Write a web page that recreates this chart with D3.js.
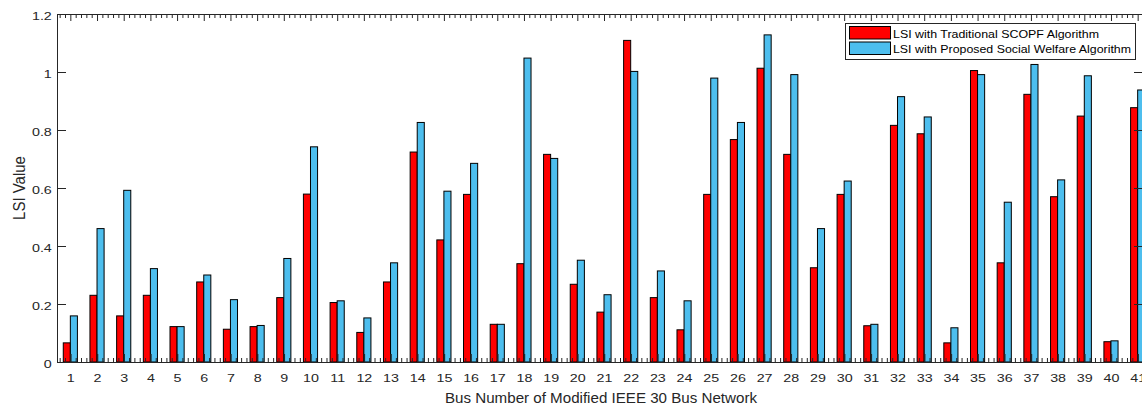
<!DOCTYPE html>
<html>
<head>
<meta charset="utf-8">
<script src="https://cdn.jsdelivr.net/npm/d3@7"></script>
<style>
  body { margin: 0; background: #fff; }
  svg { display: block; font-family: "Liberation Sans", Arial, sans-serif; }
  .axis text { fill: #262626; font-size: 11px; }
  .axis line { stroke: #262626; }
</style>
</head>
<body>
<div id="chart"></div>
<script>
// bus numbers 1..41
const buses = [1,2,3,4,5,6,7,8,9,10,11,12,13,14,15,16,17,18,19,20,21,22,23,24,25,26,27,28,29,30,31,32,33,34,35,36,37,38,39,40,41];

const lsiTraditional = [0.066,0.230,0.159,0.230,0.122,0.276,0.113,0.122,0.222,0.579,
                        0.205,0.102,0.276,0.724,0.421,0.578,0.130,0.339,0.716,0.268,
                        0.172,1.109,0.222,0.111,0.578,0.767,1.013,0.716,0.325,0.578,
                        0.125,0.816,0.787,0.066,1.005,0.342,0.923,0.570,0.848,0.070,0.877];

const lsiSocialWelfare = [0.159,0.460,0.592,0.322,0.122,0.300,0.215,0.126,0.357,0.742,
                          0.211,0.152,0.342,0.826,0.589,0.685,0.130,1.048,0.702,0.351,
                          0.232,1.002,0.314,0.211,0.979,0.826,1.128,0.991,0.460,0.624,
                          0.130,0.915,0.845,0.118,0.991,0.551,1.026,0.628,0.987,0.073,0.938];

const yTicks = [0, 0.2, 0.4, 0.6, 0.8, 1, 1.2];
const seriesNames = ["LSI with Traditional SCOPF Algorithm", "LSI with Proposed Social Welfare Algorithm"];
const seriesColors = ["#ff0000", "#4dbeee"];

const width = 1142, height = 408;
const m = { left: 57, right: 1143, top: 14, bottom: 362 };
const stretch = 1.3; // the source picture is stretched sideways

const svg = d3.select("#chart").append("svg")
    .attr("width", width).attr("height", height);

const x = d3.scaleLinear().domain([0.5, 41.2]).range([m.left, m.right]);
const y = d3.scaleLinear().domain([0, 1.2]).range([m.bottom, m.top]);

// minor x ticks every 0.2
let minor = [];
for (let i = 3; i <= 206; i++) {
    if (i % 5 !== 0) minor.push(i / 5);
}

const barW = 0.265;

// bars
let bars = svg.append("g").attr("id", "bars");
bars.selectAll("rect.trad").data(buses).enter().append("rect")
    .attr("class", "trad")
    .attr("x", d => x(d - barW))
    .attr("y", (d, i) => y(lsiTraditional[i]))
    .attr("width", x(barW) - x(0))
    .attr("height", (d, i) => y(0) - y(lsiTraditional[i]))
    .attr("fill", seriesColors[0])
    .attr("stroke", "#000").attr("stroke-width", 1);

bars.selectAll("rect.soc").data(buses).enter().append("rect")
    .attr("class", "soc")
    .attr("x", d => x(d))
    .attr("y", (d, i) => y(lsiSocialWelfare[i]))
    .attr("width", x(barW) - x(0))
    .attr("height", (d, i) => y(0) - y(lsiSocialWelfare[i]))
    .attr("fill", seriesColors[1])
    .attr("stroke", "#000").attr("stroke-width", 1);

// axes
let xAxis = svg.append("g").attr("class", "axis").attr("transform", `translate(0,${m.bottom})`)
    .call(d3.axisBottom(x).tickValues(buses).tickSize(-8).tickPadding(12));
xAxis.selectAll("line").attr("stroke-width", 1.5);
xAxis.selectAll("text").attr("transform", `scale(${stretch},1)`);
svg.append("g").attr("class", "axis").attr("transform", `translate(0,${m.bottom})`)
    .call(d3.axisBottom(x).tickValues(minor).tickSize(-4).tickFormat(""));

svg.append("g").attr("class", "axis").attr("transform", `translate(0,${m.top})`)
    .call(d3.axisTop(x).tickValues(buses).tickSize(-7).tickFormat(""));
svg.append("g").attr("class", "axis").attr("transform", `translate(0,${m.top})`)
    .call(d3.axisTop(x).tickValues(minor).tickSize(-4).tickFormat(""));

let yAxis = svg.append("g").attr("class", "axis").attr("transform", `translate(${m.left},0)`)
    .call(d3.axisLeft(y).tickValues(yTicks).tickSize(-9).tickPadding(4).tickFormat(d => String(d)));
yAxis.selectAll("text").attr("transform", `translate(0,1.5) scale(${stretch},1)`);
svg.append("g").attr("class", "axis").attr("transform", `translate(${m.right},0)`)
    .call(d3.axisRight(y).tickValues(yTicks).tickSize(-9).tickFormat(""));

svg.selectAll(".axis path.domain").remove();

// frame
svg.append("rect")
    .attr("x", m.left + 0.5).attr("y", m.top + 0.5)
    .attr("width", m.right - m.left).attr("height", m.bottom - m.top)
    .attr("fill", "none").attr("stroke", "#262626").attr("stroke-width", 1);

// axis titles
svg.append("text")
    .attr("x", 445).attr("y", 403)
    .attr("font-size", "14px").attr("fill", "#262626")
    .attr("textLength", 312).attr("lengthAdjust", "spacingAndGlyphs")
    .text("Bus Number of Modified IEEE 30 Bus Network");

svg.append("text")
    .attr("transform", "translate(25,188) scale(1.12,1) rotate(-90)")
    .attr("text-anchor", "middle")
    .attr("font-size", "15px").attr("fill", "#262626")
    .text("LSI Value");

// legend
const legendTextLen = [206, 238];
let legend = svg.append("g").attr("id", "legend");
legend.append("rect")
    .attr("x", 845.5).attr("y", 23.5).attr("width", 290).attr("height", 36)
    .attr("fill", "#fff").attr("stroke", "#262626");
seriesNames.forEach((name, i) => {
    legend.append("rect")
        .attr("x", 849.5).attr("y", 26.5 + i * 15.5).attr("width", 41).attr("height", 12.5)
        .attr("fill", seriesColors[i]).attr("stroke", "#000");
    legend.append("text")
        .attr("x", 893).attr("y", 37.5 + i * 15.5)
        .attr("font-size", "10.5px").attr("fill", "#000")
        .attr("textLength", legendTextLen[i]).attr("lengthAdjust", "spacingAndGlyphs")
        .text(name);
});
</script>
</body>
</html>
